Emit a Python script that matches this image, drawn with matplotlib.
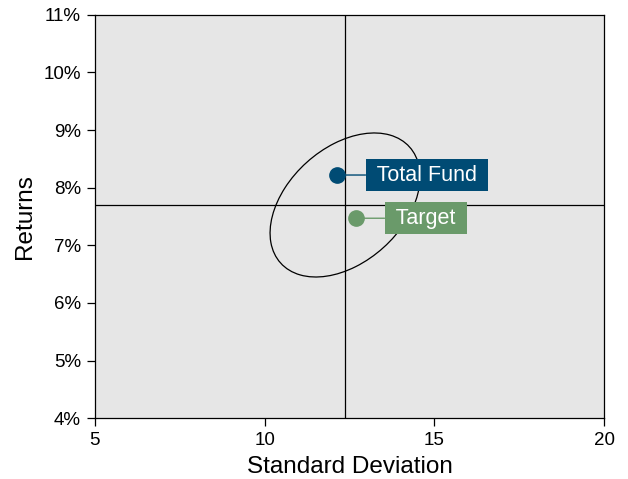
import matplotlib
matplotlib.use('Agg')
import matplotlib.pyplot as plt
from matplotlib.patches import Ellipse
from matplotlib.ticker import FuncFormatter

plt.rcParams['font.family'] = ['Liberation Sans', 'DejaVu Sans']

# данные
names = ['Total Fund', 'Target']
std_dev = [12.13, 12.69]
returns = [8.22, 7.47]
colors = ['#004B74', '#6A9A6A']

# перекрестие (медианы)
cross_x = 12.37
cross_y = 7.70

# эллипс
ell_center = (12.37, 7.70)
ell_width = 4.56
ell_height = 2.23
ell_angle = 16.5

fig = plt.figure(figsize=(6.28, 4.79), dpi=100)
ax = fig.add_axes([0.151, 0.127, 0.811, 0.842])
ax.set_facecolor('#E6E6E6')

ax.axvline(cross_x, color='black', lw=0.9, zorder=1)
ax.axhline(cross_y, color='black', lw=0.9, zorder=1)

ax.add_patch(Ellipse(ell_center, ell_width, ell_height, angle=ell_angle,
                     fill=False, edgecolor='black', lw=0.9, zorder=2))

for name, x, y, c in zip(names, std_dev, returns, colors):
    ax.plot(x, y, 'o', color=c, markersize=11, zorder=4)
    ax.annotate(' ' + name + ' ', xy=(x, y), xytext=(34, 0), textcoords='offset pixels',
                ha='left', va='center', fontsize=15.5, color='white', zorder=5,
                bbox=dict(boxstyle='square,pad=0.25', fc=c, ec='none'),
                arrowprops=dict(arrowstyle='-', color=c, lw=1, shrinkA=0, shrinkB=0))

ax.set_xlim(5, 20)
ax.set_ylim(4, 11)
ax.set_xticks([5, 10, 15, 20])
ax.set_yticks(range(4, 12))
ax.yaxis.set_major_formatter(FuncFormatter(lambda v, p: '%d%%' % v))
ax.tick_params(direction='out', length=6, width=0.9, labelsize=13.5, pad=4)
for s in ax.spines.values():
    s.set_linewidth(0.9)

ax.set_xlabel('Standard Deviation', fontsize=17.5, labelpad=5)
ax.set_ylabel('Returns', fontsize=17.5, labelpad=5)

plt.savefig('out.png', dpi=100)
